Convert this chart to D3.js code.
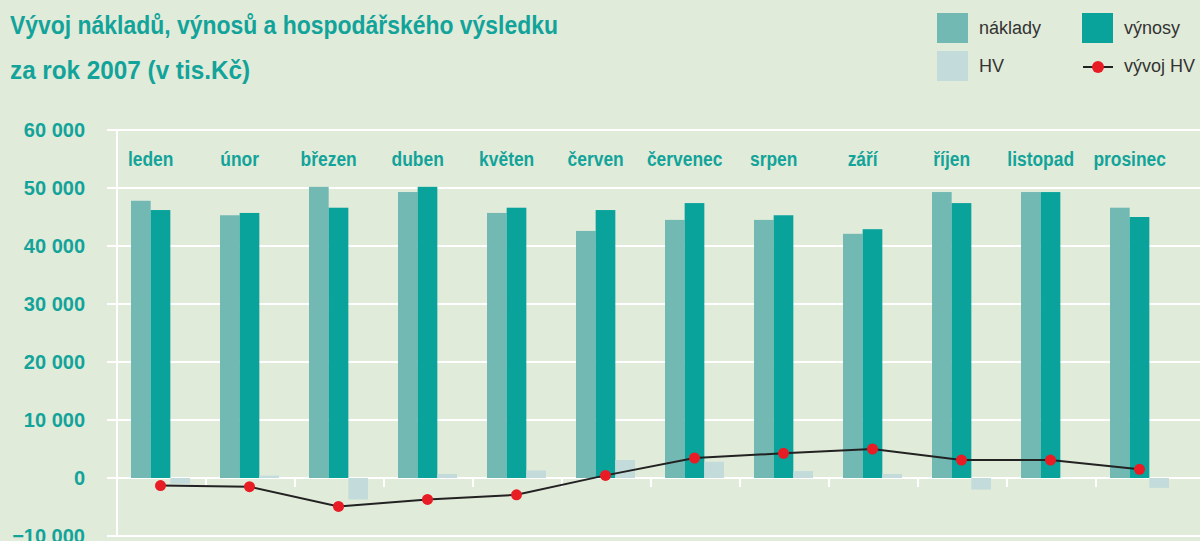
<!DOCTYPE html>
<html>
<head>
<meta charset="utf-8">
<script src="https://cdn.jsdelivr.net/npm/d3@7"></script>
<style>
	body { margin: 0; background: #e1ebd9; }
	svg { display: block; }
</style>
</head>
<body>
<svg id="chart" width="1200" height="541"></svg>
<script>
const months = ['leden', 'únor', 'březen', 'duben', 'květen', 'červen', 'červenec', 'srpen', 'září', 'říjen', 'listopad', 'prosinec'];
const naklady = [47800, 45300, 50200, 49300, 45700, 42600, 44500, 44500, 42100, 49300, 49300, 46600];
const vynosy = [46200, 45700, 46600, 50200, 46600, 46200, 47400, 45300, 42900, 47400, 49300, 45000];
const hv = [-1000, 400, -3700, 700, 1300, 3100, 2800, 1200, 700, -2000, 0, -1700];
const vyvojHV = [-1300, -1500, -4900, -3700, -2900, 450, 3450, 4250, 5000, 3100, 3100, 1500];
const yTicks = [-10000, 0, 10000, 20000, 30000, 40000, 50000, 60000];

const teal = '#12a39a';
const colors = { naklady: '#72b8b3', vynosy: '#0aa39c', hv: '#c3dcdb' };
const font = '"Liberation Sans Narrow", "Liberation Sans", sans-serif';

const svg = d3.select('#chart');

const y = d3.scaleLinear().domain([-10000, 60000]).range([536, 130]);
const x = d3.scaleBand().domain(months).range([117, 1185]);
// three bars inside each month band
const inner = d3.scaleBand().domain(['naklady', 'vynosy', 'hv']).range([14, 73]);

const fmt = v => d3.format(',')(v).replace(/,/g, ' ').replace('-', '–');

// title
const title = svg.append('g')
	.attr('font-family', font)
	.attr('font-weight', 'bold')
	.attr('font-size', 25)
	.attr('fill', teal);
title.append('text').attr('x', 10).attr('y', 34)
	.attr('textLength', 548).attr('lengthAdjust', 'spacingAndGlyphs')
	.text('Vývoj nákladů, výnosů a hospodářského výsledku');
title.append('text').attr('x', 10).attr('y', 79)
	.attr('textLength', 240).attr('lengthAdjust', 'spacingAndGlyphs')
	.text('za rok 2007 (v tis.Kč)');

// grid
const grid = svg.append('g').attr('stroke', '#fff').attr('stroke-width', 2);
grid.selectAll('line.h')
	.data(yTicks)
	.enter()
	.append('line')
		.attr('x1', 107).attr('x2', 1200)
		.attr('y1', d => y(d)).attr('y2', d => y(d));
grid.append('line')
	.attr('x1', 117).attr('x2', 117)
	.attr('y1', y(60000)).attr('y2', y(-10000));
grid.selectAll('line.t')
	.data(months.slice(1))
	.enter()
	.append('line')
		.attr('x1', d => x(d)).attr('x2', d => x(d))
		.attr('y1', y(0)).attr('y2', y(0) + 9);

// y labels
svg.append('g')
	.attr('font-family', '"Liberation Sans", sans-serif')
	.attr('font-weight', 'bold')
	.attr('font-size', 20)
	.attr('fill', teal)
	.attr('text-anchor', 'end')
	.selectAll('text')
	.data(yTicks)
	.enter()
	.append('text')
		.attr('x', 85)
		.attr('y', d => y(d) + 7)
		.text(fmt);

// bars
const groups = svg.append('g').selectAll('g')
	.data(months)
	.enter()
	.append('g')
		.attr('transform', d => `translate(${x(d)},0)`);

const bar = (key, values) => {
	groups.append('rect')
		.attr('x', inner(key))
		.attr('width', inner.bandwidth())
		.attr('y', (d, i) => y(Math.max(0, values[i])))
		.attr('height', (d, i) => Math.abs(y(values[i]) - y(0)))
		.attr('fill', colors[key]);
};
bar('naklady', naklady);
bar('vynosy', vynosy);
bar('hv', hv);

// month labels (condensed look: squeeze to ~87% width)
groups.append('text')
	.attr('x', inner('vynosy'))
	.attr('y', 166)
	.attr('text-anchor', 'middle')
	.attr('font-family', font)
	.attr('font-weight', 'bold')
	.attr('font-size', 20)
	.attr('fill', teal)
	.text(d => d)
	.each(function () {
		const w = this.getComputedTextLength();
		d3.select(this).attr('textLength', w * 0.87).attr('lengthAdjust', 'spacingAndGlyphs');
	});

// cumulative HV line
const cx = (d, i) => x(months[i]) + inner('vynosy') + inner.bandwidth() / 2;
svg.append('path')
	.datum(vyvojHV)
	.attr('fill', 'none')
	.attr('stroke', '#222')
	.attr('stroke-width', 2)
	.attr('d', d3.line().x(cx).y(d => y(d)));
svg.append('g').selectAll('circle')
	.data(vyvojHV)
	.enter()
	.append('circle')
		.attr('cx', cx)
		.attr('cy', d => y(d))
		.attr('r', 5.5)
		.attr('fill', '#e81c24');

// legend
const legend = svg.append('g')
	.attr('font-family', '"Liberation Sans", sans-serif')
	.attr('font-size', 18)
	.attr('fill', '#333');
const items = [
	{ label: 'náklady', color: colors.naklady, x: 937, y: 13 },
	{ label: 'výnosy', color: colors.vynosy, x: 1082, y: 13 },
	{ label: 'HV', color: colors.hv, x: 937, y: 51 }
];
items.forEach(it => {
	legend.append('rect').attr('x', it.x).attr('y', it.y).attr('width', 31).attr('height', 30).attr('fill', it.color);
	legend.append('text').attr('x', it.x + 42).attr('y', it.y + 21).text(it.label);
});
legend.append('line').attr('x1', 1083).attr('x2', 1113).attr('y1', 67).attr('y2', 67)
	.attr('stroke', '#222').attr('stroke-width', 2);
legend.append('circle').attr('cx', 1098).attr('cy', 67).attr('r', 6).attr('fill', '#e81c24');
legend.append('text').attr('x', 1124).attr('y', 72).text('vývoj HV');
</script>
</body>
</html>
